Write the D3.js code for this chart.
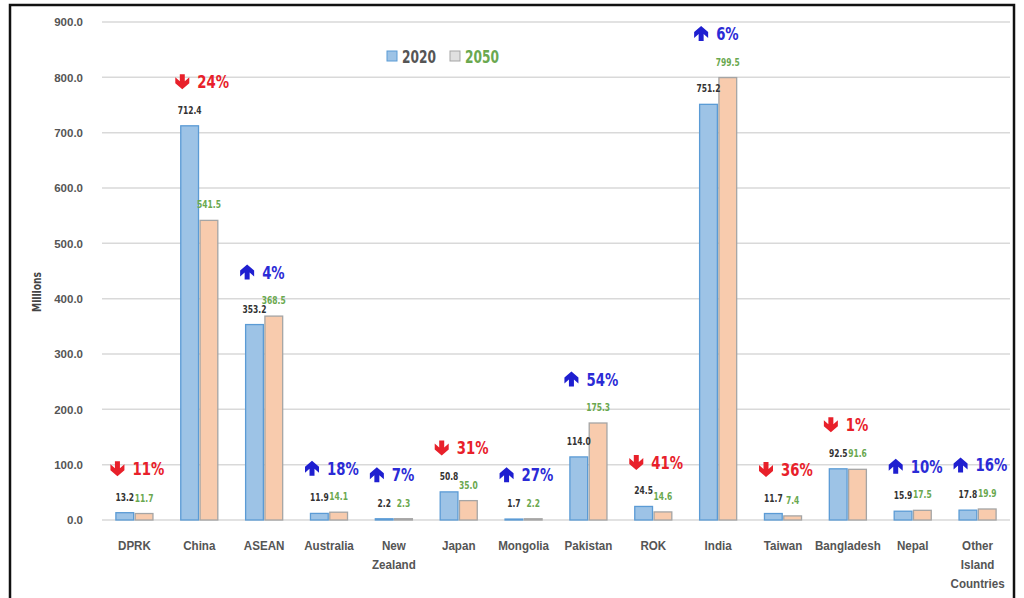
<!DOCTYPE html>
<html><head><meta charset="utf-8">
<script src="https://cdn.jsdelivr.net/npm/d3@7"></script>
<style>
body{margin:0;background:#fff;}
svg{display:block;font-family:"DejaVu Sans Condensed","Liberation Sans Narrow","DejaVu Sans",sans-serif;}
</style></head><body>
<svg id="c" width="1024" height="598"></svg>
<script>
const categories = ["DPRK","China","ASEAN","Australia","New Zealand","Japan","Mongolia","Pakistan","ROK","India","Taiwan","Bangladesh","Nepal","Other Island Countries"];
const values2020 = [13.2,712.4,353.2,11.9,2.2,50.8,1.7,114.0,24.5,751.2,11.7,92.5,15.9,17.8];
const values2050 = [11.7,541.5,368.5,14.1,2.3,35.0,2.2,175.3,14.6,799.5,7.4,91.6,17.5,19.9];
const changePct = [-11,-24,4,18,7,-31,27,54,-41,6,-36,-1,10,16];
const yTicks = [0,100,200,300,400,500,600,700,800,900];
const seriesNames = ["2020","2050"];

const svg = d3.select("#c");
svg.append("rect").attr("x",10).attr("y",5).attr("width",1004).attr("height",610)
  .attr("fill","none").attr("stroke","#111").attr("stroke-width",2.5);

const m = {l:102, r:1010, t:22, b:520};
const x = d3.scaleBand().domain(categories).range([m.l,m.r]);
const xs = d3.scaleBand().domain(seriesNames).range([0,x.bandwidth()]).paddingInner(0.08).paddingOuter(0.72);
const y = d3.scaleLinear().domain([0,900]).range([m.b,m.t]);

svg.append("g").selectAll("line").data(yTicks).join("line")
  .attr("x1",m.l).attr("x2",m.r).attr("y1",d=>y(d)).attr("y2",d=>y(d))
  .attr("stroke","#d9d9d9").attr("stroke-width",1.5);

const yAxis = d3.axisLeft(y).tickValues(yTicks).tickFormat(d3.format(".1f")).tickSize(0).tickPadding(19);
const gy = svg.append("g").attr("transform",`translate(${m.l},0)`).call(yAxis);
gy.select(".domain").remove();
gy.selectAll("text").attr("fill","#555").attr("font-size",11.5).attr("font-weight","bold");

svg.append("g").attr("transform","translate(41,292) rotate(-90) scale(0.85,1)")
  .append("text").attr("text-anchor","middle")
  .attr("font-size",12).attr("font-weight","bold").attr("fill","#444").text("Millions");

const xAxis = d3.axisBottom(x).tickSize(0).tickPadding(0);
const gx = svg.append("g").attr("transform",`translate(0,${m.b})`).call(xAxis);
gx.select(".domain").remove();
gx.selectAll(".tick text").each(function(d){
  const t = d3.select(this); t.text(null).attr("y",0).attr("dy",null).attr("transform","scale(0.86,1)");
  const parts = d==="New Zealand" ? ["New","Zealand"] : d==="Other Island Countries" ? ["Other","Island","Countries"] : [d];
  parts.forEach((p,i)=>t.append("tspan").attr("x",0).attr("y",30+i*19).text(p));
}).attr("fill","#555").attr("font-size",13.5).attr("font-weight","bold");

const fills = ["#9dc3e6","#f8cbad"], strokes = ["#5b9bd5","#a5a5a5"], labelColors = ["#333","#6aa84f"];
const data = categories.map((c,i)=>({c, v:[values2020[i],values2050[i]], p:changePct[i]}));

const g = svg.append("g").selectAll("g").data(data).join("g").attr("transform",d=>`translate(${x(d.c)},0)`);
seriesNames.forEach((s,k)=>{
  g.append("rect").attr("x",xs(s)).attr("width",xs.bandwidth())
    .attr("y",d=>y(d.v[k])).attr("height",d=>y(0)-y(d.v[k]))
    .attr("fill",fills[k]).attr("stroke",strokes[k]).attr("stroke-width",1.3);
});
seriesNames.forEach((s,k)=>{
  g.append("g").attr("transform",d=>`translate(${xs(s)+xs.bandwidth()/2},${y(d.v[k])-12}) scale(0.8,1)`)
    .append("text").attr("text-anchor","middle").attr("font-size",10.5).attr("font-weight","bold")
    .attr("fill",labelColors[k]).text(d=>d3.format(".1f")(d.v[k]));
});

const ann = g.append("g").attr("transform",d=>`translate(${x.bandwidth()/2},${y(Math.max(...d.v))-44})`);
ann.append("path").attr("transform",d=>`translate(-17,0) ${d.p<0?"":"rotate(180)"}`)
  .attr("d","M-2.5,-7.5 L2.5,-7.5 L2.5,-0.5 L7,-4.5 L7,1.5 L0,7.5 L-7,1.5 L-7,-4.5 L-2.5,-0.5 Z")
  .attr("fill",d=>d.p<0?"#e8202a":"#1f1fd0");
ann.append("g").attr("transform","translate(-2,6.5) scale(0.82,1)").append("text")
  .attr("font-size",18).attr("font-weight","bold")
  .attr("fill",d=>d.p<0?"#e8202a":"#2b2bd6").text(d=>Math.abs(d.p)+"%");

const lg = svg.append("g").attr("transform","translate(387,56)");
seriesNames.forEach((s,k)=>{
  const o = k*63;
  lg.append("rect").attr("x",o).attr("y",-5).attr("width",10).attr("height",10)
    .attr("fill",k?"#e0e0e0":fills[0]).attr("stroke",k?"#a5a5a5":strokes[0]);
  lg.append("g").attr("transform",`translate(${o+15},6.5) scale(0.8,1)`).append("text")
    .attr("font-size",17).attr("font-weight","bold")
    .attr("fill",k?"#6aa84f":"#555").text(s);
});
</script></body></html>
